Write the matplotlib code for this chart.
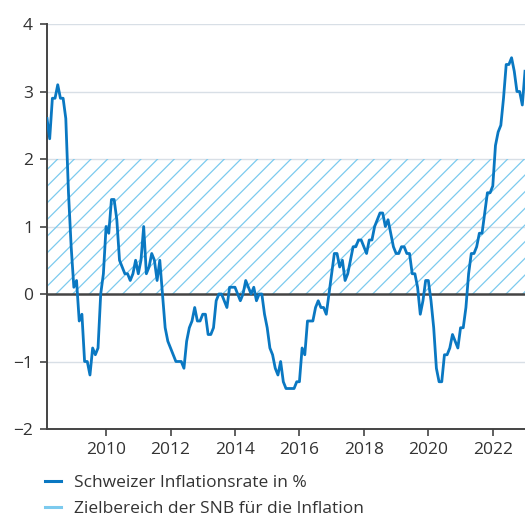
import numpy as np
import matplotlib
matplotlib.use("Agg")
import matplotlib.pyplot as plt
from matplotlib.lines import Line2D

plt.rcParams['font.family'] = ['Open Sans', 'DejaVu Sans']
plt.rcParams['hatch.linewidth'] = 0.9

# monthly inflation, Mar 2008 .. Jan 2023
start_year = 2008
start_month = 3
inflation = [
    2.6, 2.3, 2.9, 2.9, 3.1, 2.9, 2.9, 2.6, 1.5, 0.7,            # 2008 Mar-Dec
    0.1, 0.2, -0.4, -0.3, -1.0, -1.0, -1.2, -0.8, -0.9, -0.8, 0.0, 0.3,  # 2009
    1.0, 0.9, 1.4, 1.4, 1.1, 0.5, 0.4, 0.3, 0.3, 0.2, 0.3, 0.5,  # 2010
    0.3, 0.5, 1.0, 0.3, 0.4, 0.6, 0.5, 0.2, 0.5, 0.0, -0.5, -0.7,  # 2011
    -0.8, -0.9, -1.0, -1.0, -1.0, -1.1, -0.7, -0.5, -0.4, -0.2, -0.4, -0.4,  # 2012
    -0.3, -0.3, -0.6, -0.6, -0.5, -0.1, 0.0, 0.0, -0.1, -0.2, 0.1, 0.1,  # 2013
    0.1, 0.0, -0.1, 0.0, 0.2, 0.1, 0.0, 0.1, -0.1, 0.0, 0.0, -0.3,  # 2014
    -0.5, -0.8, -0.9, -1.1, -1.2, -1.0, -1.3, -1.4, -1.4, -1.4, -1.4, -1.3,  # 2015
    -1.3, -0.8, -0.9, -0.4, -0.4, -0.4, -0.2, -0.1, -0.2, -0.2, -0.3, 0.0,  # 2016
    0.3, 0.6, 0.6, 0.4, 0.5, 0.2, 0.3, 0.5, 0.7, 0.7, 0.8, 0.8,  # 2017
    0.7, 0.6, 0.8, 0.8, 1.0, 1.1, 1.2, 1.2, 1.0, 1.1, 0.9, 0.7,  # 2018
    0.6, 0.6, 0.7, 0.7, 0.6, 0.6, 0.3, 0.3, 0.1, -0.3, -0.1, 0.2,  # 2019
    0.2, -0.1, -0.5, -1.1, -1.3, -1.3, -0.9, -0.9, -0.8, -0.6, -0.7, -0.8,  # 2020
    -0.5, -0.5, -0.2, 0.3, 0.6, 0.6, 0.7, 0.9, 0.9, 1.2, 1.5, 1.5,  # 2021
    1.6, 2.2, 2.4, 2.5, 2.9, 3.4, 3.4, 3.5, 3.3, 3.0, 3.0, 2.8,  # 2022
    3.3,  # 2023 Jan
]
target_low, target_high = 0, 2
year_ticks = [2010, 2012, 2014, 2016, 2018, 2020, 2022]
y_ticks = [-2, -1, 0, 1, 2, 3, 4]
labels = ["Schweizer Inflationsrate in %", "Zielbereich der SNB für die Inflation"]

line_col = "#0a78c2"
band_col = "#7ccaee"
text_col = "#333333"
axis_col = "#444444"
grid_col = "#d8dfe6"

t = start_year + (start_month - 1) / 12 + np.arange(len(inflation)) / 12

fig = plt.figure(figsize=(5.25, 5.16), dpi=100)
ax = fig.add_axes([47 / 525, 1 - 429 / 516, 1 - 47 / 525, (429 - 24) / 516])

ax.set_xlim(t[0], t[-1])
ax.set_ylim(-2, 4)

for y in y_ticks:
    if y not in (-2, 0):
        ax.axhline(y, color=grid_col, lw=1.0, zorder=0)

ax.fill_between([t[0], t[-1]], target_low, target_high, facecolor="none",
                edgecolor=band_col, hatch="//", lw=0, zorder=1)
ax.axhline(0, color=axis_col, lw=1.8, zorder=2)
ax.plot(t, inflation, color=line_col, lw=2.0, zorder=3, solid_joinstyle="round")

for s in ["top", "right"]:
    ax.spines[s].set_visible(False)
for s in ["left", "bottom"]:
    ax.spines[s].set_color(axis_col)
    ax.spines[s].set_linewidth(1.4)

ax.set_xticks(year_ticks)
ax.set_xticklabels([str(y) for y in year_ticks])
ax.set_yticks(y_ticks)
ax.set_yticklabels([str(y).replace("-", "\u2212") for y in y_ticks])
ax.tick_params(axis="both", colors=axis_col, labelcolor=text_col, labelsize=12.5,
               length=5, width=1.2, direction="out")
ax.tick_params(axis="y", pad=5)
ax.tick_params(axis="x", pad=4)

handles = [Line2D([], [], color=line_col, lw=2.2),
           Line2D([], [], color=band_col, lw=2.2)]
fig.legend(handles, labels, loc="upper left", bbox_to_anchor=(45 / 525, 1 - 475 / 516),
           frameon=False, fontsize=12.5, labelcolor=text_col, handlelength=0.9,
           handletextpad=0.75, labelspacing=0.55, borderaxespad=0, borderpad=0)

fig.savefig("out.png", dpi=100)
